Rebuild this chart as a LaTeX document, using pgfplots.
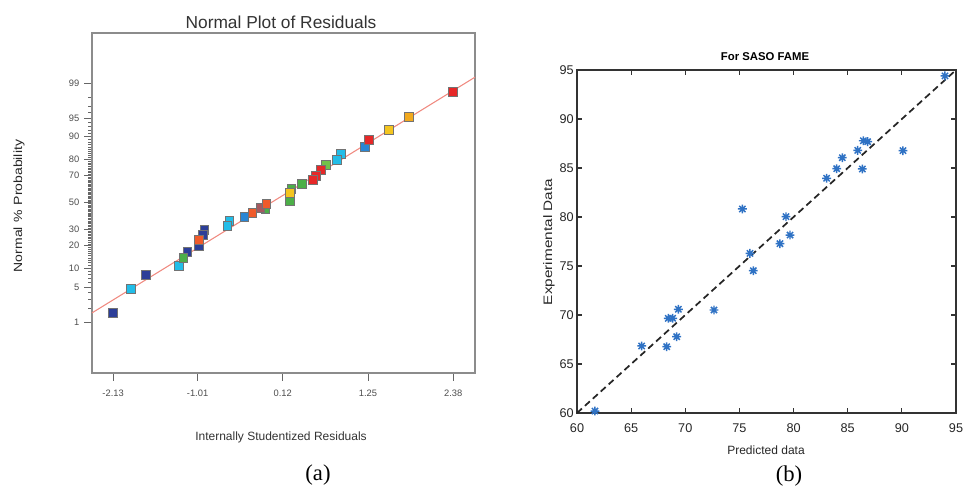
\documentclass[border=0pt]{standalone}
\usepackage{fontspec}
\setmainfont{Liberation Sans}
\newfontfamily\seriffont{Liberation Serif}
\usepackage{pgfplots}
\pgfplotsset{compat=1.18}
\definecolor{dblue}{HTML}{2C3E98}
\definecolor{cyanq}{HTML}{22BDE8}
\definecolor{blueq}{HTML}{2A86D4}
\definecolor{greenq}{HTML}{4CAF48}
\definecolor{lgreenq}{HTML}{72C14A}
\definecolor{redq}{HTML}{E62828}
\definecolor{orangeq}{HTML}{EF5A2A}
\definecolor{yellowq}{HTML}{F4C51F}
\definecolor{amberq}{HTML}{F2A91E}
\definecolor{brownq}{HTML}{A55A60}
\definecolor{fitred}{HTML}{F08A80}
\definecolor{starblue}{HTML}{2F72C4}
\pgfdeclareplotmark{mstar}{%
  \pgfpathmoveto{\pgfpoint{-\pgfplotmarksize}{0pt}}\pgfpathlineto{\pgfpoint{\pgfplotmarksize}{0pt}}%
  \pgfpathmoveto{\pgfpoint{0pt}{-\pgfplotmarksize}}\pgfpathlineto{\pgfpoint{0pt}{\pgfplotmarksize}}%
  \pgfpathmoveto{\pgfpoint{-0.707\pgfplotmarksize}{-0.707\pgfplotmarksize}}\pgfpathlineto{\pgfpoint{0.707\pgfplotmarksize}{0.707\pgfplotmarksize}}%
  \pgfpathmoveto{\pgfpoint{-0.707\pgfplotmarksize}{0.707\pgfplotmarksize}}\pgfpathlineto{\pgfpoint{0.707\pgfplotmarksize}{-0.707\pgfplotmarksize}}%
  \pgfusepathqstroke}
\begin{document}
\begin{tikzpicture}[x=0.75pt,y=0.75pt]
\path[use as bounding box] (0,0) rectangle (963,489);
% ---------------- left panel ----------------
\begin{axis}[
  at={(69pt,87pt)}, anchor=south west,
  width=287.25pt, height=255pt, scale only axis,
  xmin=-2.41, xmax=2.67, ymin=-3.32, ymax=3.30,
  axis line style={draw=black!45, line width=0.9pt},
  tick pos=left, tick align=outside,
  major tick length=6pt, minor tick length=3pt,
  every tick/.style={black!60, line width=0.5pt},
  xtick={-2.13,-1.01,0.12,1.25,2.38},
  xticklabels={-2.13,-1.01,0.12,1.25,2.38},
  ytick={-2.326,-1.645,-1.2816,-0.8416,-0.5244,0,0.5244,0.8416,1.2816,1.645,2.326},
  yticklabels={1,5,10,20,30,50,70,80,90,95,99},
  minor ytick={-2.054,-1.881,-1.751,-1.555,-1.476,-1.405,-1.341,-1.227,-1.175,-1.126,-1.080,-1.036,-0.994,-0.954,-0.915,-0.878,-0.806,-0.772,-0.739,-0.706,-0.674,-0.643,-0.613,-0.583,-0.553,-0.496,-0.468,-0.440,-0.412,-0.385,-0.358,-0.332,-0.305,-0.279,-0.253,-0.228,-0.202,-0.176,-0.151,-0.126,-0.100,-0.075,-0.050,-0.025,
  0.025,0.050,0.075,0.100,0.126,0.151,0.176,0.202,0.228,0.253,0.279,0.305,0.332,0.358,0.385,0.412,0.440,0.468,0.496,0.553,0.583,0.613,0.643,0.674,0.706,0.739,0.772,0.806,0.878,0.915,0.954,0.994,1.036,1.080,1.126,1.175,1.227,1.341,1.405,1.476,1.555,1.751,1.881,2.054},
  ticklabel style={font=\fontsize{7}{8}\selectfont, text=black!70},
  /pgf/number format/assume math mode=true,
  xticklabel style={yshift=-3pt},
  clip=false,
]
\addplot[fitred, line width=0.8pt] coordinates {(-2.41,-2.15) (2.67,2.44)};
\pgfplotsset{sq/.style={only marks, mark=square*, mark size=3.3pt, mark options={draw=black!55, line width=0.6pt, fill=#1}}}
\addplot[sq=dblue] coordinates {(-0.920,-0.535) (-0.934,-0.632) (-0.987,-0.846) (-1.146,-0.963) (-1.691,-1.411) (-2.130,-2.150)};
\addplot[sq=cyanq] coordinates {(0.888,0.944) (0.835,0.827) (-0.588,-0.360) (-0.614,-0.457) (-1.253,-1.235) (-1.891,-1.683)};
\addplot[sq=blueq] coordinates {(1.207,1.080) (-0.388,-0.282)};
\addplot[sq=greenq] coordinates {(0.369,0.360) (0.236,0.263) (0.210,0.107) (0.210,0.029) (-0.109,-0.126) (-1.199,-1.080)};
\addplot[sq=lgreenq] coordinates {(0.688,0.730)};
\addplot[sq=brownq] coordinates {(-0.176,-0.107)};
\addplot[sq=yellowq] coordinates {(1.526,1.411) (0.210,0.185)};
\addplot[sq=amberq] coordinates {(1.792,1.663)};
\addplot[sq=redq] coordinates {(2.377,2.150) (1.260,1.216) (0.622,0.632) (0.555,0.516) (0.515,0.438)};
\addplot[sq=orangeq] coordinates {(-0.096,-0.029) (-0.282,-0.204) (-0.987,-0.730)};
\end{axis}
\node[font=\fontsize{13}{15}\selectfont, text=black!80] at (281,467) {Normal Plot of Residuals};
\node[font=\fontsize{9}{11}\selectfont, text=black!80] at (281,52) {Internally Studentized Residuals};
\node[font=\fontsize{10.5}{12}\selectfont, rotate=90, text=black!85] at (19,283) {\scalebox{1}[0.85]{Normal\,\,\%\,\,Probability}};
\node[font=\seriffont\fontsize{17}{19}\selectfont] at (318,14) {(a)};
% ---------------- right panel ----------------
\begin{axis}[
  at={(432.75pt,57pt)}, anchor=south west,
  width=284.25pt, height=257.25pt, scale only axis,
  xmin=60, xmax=95, ymin=60, ymax=95,
  xtick={60,65,...,95}, ytick={60,65,...,95},
  axis line style={draw=black!80, line width=1pt},
  tick align=inside, major tick length=4pt,
  every tick/.style={black!80, line width=0.8pt},
  ticklabel style={font=\fontsize{9.5}{11}\selectfont, text=black!85},
  yticklabel style={xshift=1pt},
  xticklabel style={yshift=-4.5pt},
  /pgf/number format/assume math mode=true,
  clip=false,
]
\addplot[black!85, dashed, line width=1.3pt, dash pattern=on 5pt off 3pt] coordinates {(60,60) (95,95)};
\addplot[only marks, mark=mstar, mark size=3.3pt, starblue, mark options={line width=1.1pt}] coordinates {
(93.98,94.40) (90.10,86.77) (86.84,87.69) (86.44,87.78) (85.92,86.80) (86.35,84.90)
(84.50,86.05) (83.98,84.93) (83.05,83.95) (75.27,80.82) (79.30,80.03) (79.67,78.16)
(78.74,77.28) (75.97,76.29) (76.28,74.52) (72.65,70.51) (69.36,70.58) (68.43,69.66)
(68.83,69.66) (69.20,67.79) (68.28,66.77) (65.97,66.84) (61.66,60.20)};
\end{axis}
\node[font=\bfseries\fontsize{8.5}{10}\selectfont] at (765,432) {For SASO FAME};
\node[font=\fontsize{9}{11}\selectfont, text=black!85] at (766,39) {Predicted data};
\node[font=\fontsize{11.5}{13}\selectfont, rotate=90, text=black!85] at (549,247) {\scalebox{1}[0.8]{Experimental Data}};
\node[font=\seriffont\fontsize{17}{19}\selectfont] at (789,13) {(b)};
\end{tikzpicture}
\end{document}
